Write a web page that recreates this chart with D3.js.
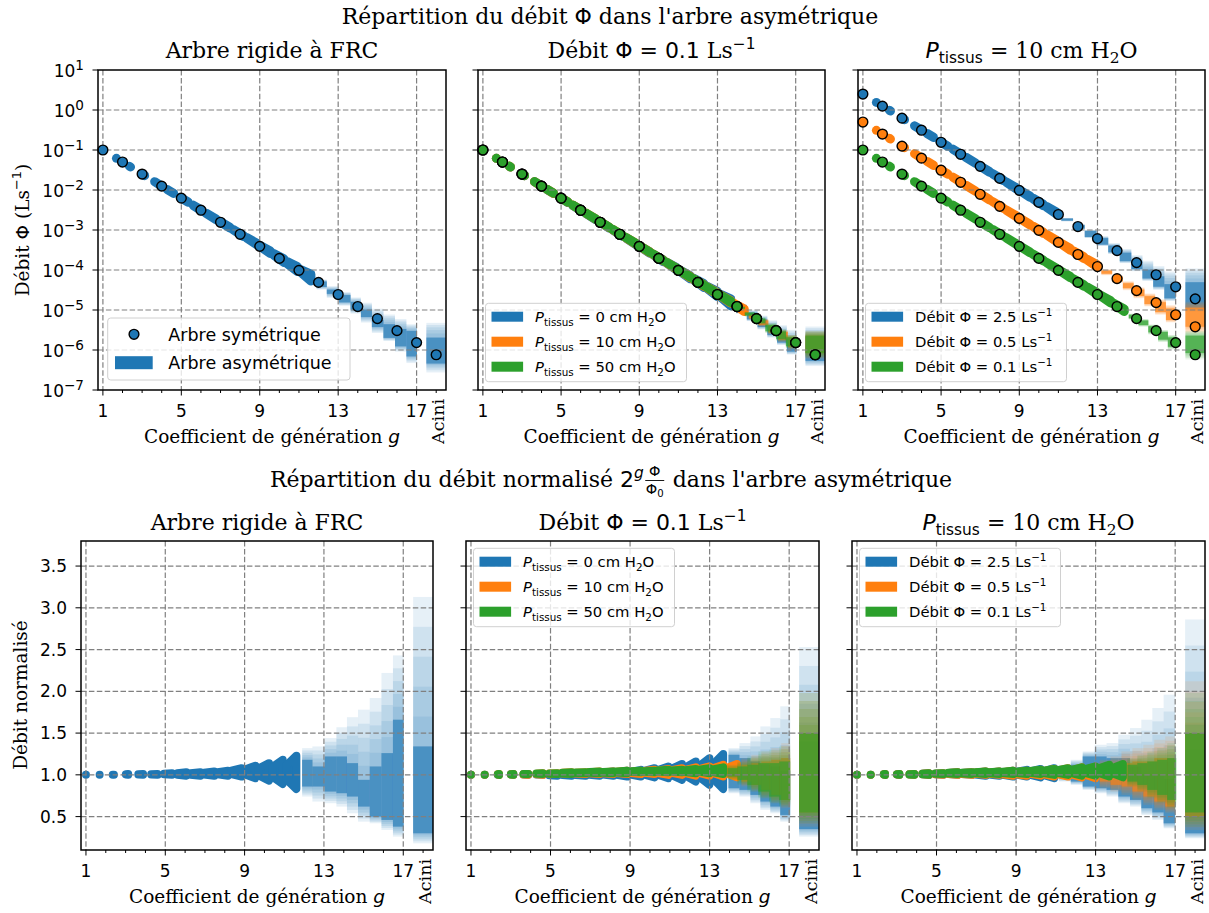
<!DOCTYPE html>
<html><head><meta charset="utf-8">
<script src="https://cdn.jsdelivr.net/npm/d3@7"></script>
<style>
body{margin:0;background:#fff;}
svg{display:block;}
text{white-space:pre;}
</style></head><body>
<script>
// ---------------- DATA ----------------
const xTickValues = [1, 5, 9, 13, 17];
const xMinorValues = [2, 3, 4, 6, 7, 8, 10, 11, 12, 14, 15, 16, 18];
const aciniPos = 18;
const aciniLabel = "Acini";
const logTickExps = [-7, -6, -5, -4, -3, -2, -1, 0, 1];
const normTicks = [0.5, 1.0, 1.5, 2.0, 2.5, 3.0, 3.5];
const symGen = [1, 2, 3, 4, 5, 6, 7, 8, 9, 10, 11, 12, 13, 14, 15, 16, 17, 18];

// symmetric tree flows (L/s) per generation (last = acini)
const symFlow01 = [0.1, 0.05, 0.025, 0.0125, 0.00625, 0.003125, 0.00156, 7.8e-4, 3.9e-4, 1.95e-4, 9.8e-5, 4.9e-5, 2.44e-5, 1.22e-5, 6.1e-6, 3.05e-6, 1.53e-6, 7.6e-7];
const symFlow05 = [0.5, 0.25, 0.125, 0.0625, 0.03125, 0.0156, 0.0078, 0.0039, 0.00195, 9.8e-4, 4.9e-4, 2.44e-4, 1.22e-4, 6.1e-5, 3.05e-5, 1.53e-5, 7.6e-6, 3.8e-6];
const symFlow25 = [2.5, 1.25, 0.625, 0.3125, 0.156, 0.078, 0.039, 0.0195, 0.0098, 0.0049, 0.00244, 0.00122, 6.1e-4, 3.05e-4, 1.53e-4, 7.6e-5, 3.8e-5, 1.9e-5];

// asymmetric tree: clusters of branches (generation coefficient) -- normalised flow range
const blobX = [1.00, 1.69, 2.38, 3.07, 3.76, 4.45, 5.14, 5.83, 6.52, 7.21, 7.90, 8.59, 9.28, 9.97, 10.66, 11.35, 12.04, 12.73, 13.42, 14.11];
const blobHalfW = [0, 0, 0.03, 0.06, 0.12, 0.16, 0.20, 0.23, 0.25, 0.26, 0.26, 0.26, 0.26, 0.26, 0.26, 0.26, 0.26, 0.26, 0.26, 0.26];
const aciniSpan = [17.5, 18.5];
const aciniNormGen = 17;

// rigid tree at FRC (Phi0 = 0.1)
const rigidLo = [1.00, 1.00, 1.00, 1.00, 1.00, 1.00, 1.00, 0.99, 0.99, 0.99, 0.99, 0.98, 0.96, 0.93, 0.89, 0.83];
const rigidHi = [1.00, 1.00, 1.00, 1.01, 1.01, 1.01, 1.02, 1.03, 1.03, 1.04, 1.05, 1.08, 1.11, 1.14, 1.18, 1.23];
// [x0, x1, min, max, coreMin, coreMax]
const rigidCols = [
  [11.90, 12.42, 0.74, 1.32, 0.86, 1.18], [12.42, 13.04, 0.68, 1.34, 0.86, 1.10],
  [13.04, 13.63, 0.66, 1.44, 0.80, 1.22], [13.63, 14.16, 0.62, 1.57, 0.78, 1.22],
  [14.16, 14.72, 0.54, 1.69, 0.74, 1.14], [14.72, 15.31, 0.44, 1.78, 0.62, 0.94],
  [15.31, 15.90, 0.42, 1.92, 0.50, 1.10], [15.90, 16.48, 0.34, 2.22, 0.46, 1.26],
  [16.48, 17.02, 0.26, 2.43, 0.38, 1.66]];
const rigidAcini = [0.18, 3.13, 0.30, 1.34];

// Phi0 = 0.1, P_tissus = 0
const p0Lo = [1.00, 1.00, 1.00, 1.00, 1.00, 1.00, 0.99, 0.99, 0.99, 0.99, 0.99, 0.98, 0.98, 0.97, 0.96, 0.94, 0.92, 0.88, 0.83];
const p0Hi = [1.00, 1.00, 1.00, 1.01, 1.01, 1.01, 1.01, 1.02, 1.02, 1.03, 1.04, 1.05, 1.06, 1.08, 1.10, 1.13, 1.16, 1.20, 1.25];
const p0Cols = [
  [13.95, 14.50, 0.78, 1.32, 0.84, 1.24], [14.50, 15.05, 0.74, 1.38, 0.82, 1.20],
  [15.05, 15.55, 0.66, 1.46, 0.76, 1.16], [15.55, 16.05, 0.58, 1.58, 0.68, 1.12],
  [16.05, 16.55, 0.54, 1.68, 0.62, 1.10], [16.55, 17.05, 0.44, 1.82, 0.52, 1.05]];
const p0Acini = [0.26, 2.53, 0.35, 1.40];

// Phi0 = 0.1, P_tissus = 10
const p10Lo = [1.00, 1.00, 1.00, 1.00, 1.00, 1.00, 1.01, 1.01, 1.01, 1.01, 1.01, 1.01, 1.01, 1.01, 1.00, 1.00, 0.99, 0.99, 0.98, 0.97];
const p10Hi = [1.00, 1.00, 1.01, 1.01, 1.01, 1.02, 1.02, 1.03, 1.03, 1.04, 1.04, 1.05, 1.05, 1.06, 1.07, 1.08, 1.09, 1.10, 1.12, 1.13];
const p10Cols = [
  [14.60, 15.10, 0.86, 1.20, 0.92, 1.12], [15.10, 15.60, 0.80, 1.24, 0.88, 1.14],
  [15.60, 16.10, 0.72, 1.28, 0.82, 1.16], [16.10, 16.60, 0.66, 1.32, 0.76, 1.18],
  [16.60, 17.05, 0.60, 1.38, 0.70, 1.20]];
const p10Acini = [0.38, 1.98, 0.55, 1.50];

// Phi0 = 0.1, P_tissus = 50
const p50Lo = [1.00, 1.00, 1.00, 1.00, 1.01, 1.01, 1.01, 1.01, 1.02, 1.02, 1.02, 1.02, 1.03, 1.03, 1.03, 1.03, 1.02, 1.02, 1.01];
const p50Hi = [1.00, 1.00, 1.01, 1.01, 1.01, 1.02, 1.02, 1.03, 1.03, 1.04, 1.04, 1.05, 1.05, 1.05, 1.06, 1.06, 1.07, 1.08, 1.09];
const p50Cols = [
  [13.90, 14.40, 0.94, 1.12, 0.98, 1.08], [14.40, 14.90, 0.88, 1.16, 0.94, 1.10],
  [14.90, 15.45, 0.80, 1.22, 0.88, 1.12], [15.45, 16.00, 0.72, 1.28, 0.80, 1.14],
  [16.00, 16.50, 0.66, 1.30, 0.74, 1.14], [16.50, 17.05, 0.62, 1.34, 0.70, 1.16]];
const p50Acini = [0.42, 1.98, 0.55, 1.50];

// P_tissus = 10, Phi0 = 2.5
const q25Lo = [1.00, 1.00, 1.00, 1.00, 1.00, 1.00, 1.00, 1.00, 1.00, 0.99, 0.99, 0.98, 0.98, 0.97, 0.96];
const q25Hi = [1.00, 1.00, 1.01, 1.01, 1.01, 1.02, 1.02, 1.03, 1.03, 1.04, 1.04, 1.05, 1.06, 1.07, 1.08];
const q25Cols = [
  [11.15, 11.75, 0.92, 1.12, 0.96, 1.08], [11.75, 12.35, 0.88, 1.18, 0.92, 1.12],
  [12.35, 12.95, 0.82, 1.28, 0.86, 1.22], [12.95, 13.55, 0.78, 1.36, 0.84, 1.22],
  [13.55, 14.14, 0.74, 1.38, 0.82, 1.20], [14.14, 14.73, 0.66, 1.48, 0.74, 1.20],
  [14.73, 15.30, 0.62, 1.56, 0.70, 1.10], [15.30, 15.85, 0.52, 1.66, 0.60, 1.00],
  [15.85, 16.42, 0.46, 1.80, 0.55, 1.00], [16.42, 17.00, 0.36, 1.96, 0.42, 0.95]];
const q25Acini = [0.24, 2.86, 0.30, 1.30];

// P_tissus = 10, Phi0 = 0.5
const q05Lo = [1.00, 1.00, 1.00, 1.00, 1.00, 1.00, 1.00, 1.00, 1.00, 1.00, 1.00, 0.99, 0.99, 0.99, 0.98, 0.98, 0.97, 0.96];
const q05Hi = [1.00, 1.00, 1.01, 1.01, 1.01, 1.02, 1.02, 1.03, 1.03, 1.04, 1.04, 1.05, 1.05, 1.06, 1.07, 1.08, 1.09, 1.10];
const q05Cols = [
  [13.20, 13.75, 0.84, 1.18, 0.92, 1.10], [13.75, 14.30, 0.80, 1.22, 0.88, 1.12],
  [14.30, 14.85, 0.76, 1.28, 0.86, 1.14], [14.85, 15.40, 0.70, 1.32, 0.80, 1.16],
  [15.40, 15.95, 0.64, 1.36, 0.74, 1.16], [15.95, 16.50, 0.58, 1.42, 0.68, 1.20],
  [16.50, 17.00, 0.54, 1.46, 0.62, 1.20]];
const q05Acini = [0.34, 2.12, 0.50, 1.50];

const SERIES = {
  rigid: {phi0: 0.1, lo: rigidLo, hi: rigidHi, cols: rigidCols, acini: rigidAcini},
  p0:    {phi0: 0.1, lo: p0Lo, hi: p0Hi, cols: p0Cols, acini: p0Acini},
  p10:   {phi0: 0.1, lo: p10Lo, hi: p10Hi, cols: p10Cols, acini: p10Acini},
  p50:   {phi0: 0.1, lo: p50Lo, hi: p50Hi, cols: p50Cols, acini: p50Acini},
  q25:   {phi0: 2.5, lo: q25Lo, hi: q25Hi, cols: q25Cols, acini: q25Acini},
  q05:   {phi0: 0.5, lo: q05Lo, hi: q05Hi, cols: q05Cols, acini: q05Acini}
};

// ---------------- LAYOUT ----------------
const W = 1209, H = 913;
const C = {blue: "#1f77b4", orange: "#ff7f0e", green: "#2ca02c"};
const SERIF = '"DejaVu Serif", serif';
const SANS = '"DejaVu Sans", sans-serif';
const xDomain = [0.75, 18.5];
const topBoxes = [[98, 446], [478, 825], [858, 1205]];
const botBoxes = [[81, 433], [466, 819], [852, 1205]];
const TOP = {y0: 70, y1: 390}, BOT = {y0: 541, y1: 850};
const yLog = d3.scaleLog().domain([1e-7, 10]).range([TOP.y1, TOP.y0]);
const yNorm = d3.scaleLinear().domain([0.1, 3.8]).range([BOT.y1, BOT.y0]);

const svg = d3.select("body").append("svg").attr("width", W).attr("height", H)
  .style("background", "#fff");
const defs = svg.append("defs");

function rich(sel, parts, base, supScale) {
  let cur = 0;
  const ss = supScale || 0.7;
  parts.forEach(p => {
    const ts = sel.append("tspan").text(p.t);
    ts.attr("font-family", p.f === "sans" ? SANS : SERIF);
    if (p.it) ts.attr("font-style", "italic");
    let off = 0, size = base;
    if (p.sub) { off = base * 0.24; size = base * 0.7; }
    if (p.sup) { off = -base * 0.42; size = base * ss; }
    ts.attr("font-size", size);
    if (off !== cur) { ts.attr("dy", off - cur); cur = off; }
  });
  return sel;
}

function drawPanel(box, isTop, idx, bands, circles) {
  const xs = d3.scaleLinear().domain(xDomain).range(box);
  const ys = isTop ? yLog : yNorm;
  const Y = isTop ? TOP : BOT;
  const clipId = "clip" + (isTop ? "t" : "b") + idx;
  defs.append("clipPath").attr("id", clipId).append("rect")
    .attr("x", box[0]).attr("y", Y.y0).attr("width", box[1] - box[0]).attr("height", Y.y1 - Y.y0);
  const g = svg.append("g");
  const dataG = g.append("g").attr("clip-path", `url(#${clipId})`);

  bands.forEach(([key, color]) => {
    const s = SERIES[key];
    const val = isTop ? (v, x) => s.phi0 * v / Math.pow(2, x - 1) : (v) => v;
    const sg = dataG.append("g");
    const cols = s.cols.map(c => ({c, gc: (c[0] + c[1]) / 2}));
    cols.push({c: [aciniSpan[0], aciniSpan[1]].concat(s.acini), gc: aciniNormGen});
    cols.forEach(({c, gc}) => {
      const [x0, x1, lo, hi, cl, ch] = c;
      const layers = 6;
      for (let j = 0; j < layers; j++) {
        const t = j / (layers - 1);
        const a = lo + (cl - lo) * t, b = hi + (ch - hi) * t;
        const yA = ys(val(a, gc)), yB = ys(val(b, gc));
        sg.append("rect").attr("x", xs(x0)).attr("width", xs(x1) - xs(x0))
          .attr("y", yB).attr("height", yA - yB)
          .attr("fill", color).attr("fill-opacity", 0.11);
      }
      const yA = ys(val(cl, gc)), yB = ys(val(ch, gc));
      sg.append("rect").attr("x", xs(x0)).attr("width", xs(x1) - xs(x0))
        .attr("y", yB).attr("height", yA - yB)
        .attr("fill", color).attr("fill-opacity", 0.6);
    });
    s.lo.forEach((lo, k) => {
      const hi = s.hi[k], c = blobX[k], hw = blobHalfW[k];
      const xl = c - hw, xr = c + hw;
      const mid = (lo + hi) / 2;
      const lL = mid + (lo - mid) * 0.4, hL = mid + (hi - mid) * 0.4;
      const pts = [[xl, lL], [xr, lo], [xr, hi], [xl, hL]];
      const d = "M" + pts.map(p => xs(p[0]).toFixed(2) + "," + ys(val(p[1], p[0])).toFixed(2)).join("L") + "Z";
      sg.append("path").attr("d", d).attr("fill", color).attr("stroke", color)
        .attr("stroke-width", isTop ? 9 : 8).attr("stroke-linejoin", "round").attr("stroke-linecap", "round");
    });
  });

  // grid
  const gridG = g.append("g").attr("stroke", "#808080").attr("stroke-width", 1.2)
    .attr("stroke-dasharray", "5.5,2.4");
  xTickValues.forEach(v => gridG.append("line").attr("x1", xs(v)).attr("x2", xs(v)).attr("y1", Y.y0).attr("y2", Y.y1));
  const yTickVals = isTop ? logTickExps.map(e => Math.pow(10, e)) : normTicks;
  yTickVals.forEach(v => {
    const yy = ys(v);
    if (yy > Y.y0 + 0.5 && yy < Y.y1 - 0.5)
      gridG.append("line").attr("x1", box[0]).attr("x2", box[1]).attr("y1", yy).attr("y2", yy);
  });

  // symmetric markers
  if (circles) {
    circles.forEach(([vals, color]) => {
      g.append("g").selectAll("circle").data(vals).join("circle")
        .attr("cx", (d, i) => xs(symGen[i])).attr("cy", d => ys(d)).attr("r", 4.9)
        .attr("fill", color).attr("stroke", "#000").attr("stroke-width", 1.4);
    });
  }

  // spines
  g.append("rect").attr("x", box[0]).attr("y", Y.y0).attr("width", box[1] - box[0]).attr("height", Y.y1 - Y.y0)
    .attr("fill", "none").attr("stroke", "#000").attr("stroke-width", 1.5);

  // ticks
  const tk = g.append("g").attr("stroke", "#000").attr("stroke-width", 1);
  xTickValues.forEach(v => tk.append("line").attr("x1", xs(v)).attr("x2", xs(v)).attr("y1", Y.y1).attr("y2", Y.y1 + 5.5));
  xMinorValues.forEach(v => tk.append("line").attr("x1", xs(v)).attr("x2", xs(v)).attr("y1", Y.y1).attr("y2", Y.y1 + 3));
  yTickVals.forEach(v => tk.append("line").attr("x1", box[0] - 5.5).attr("x2", box[0]).attr("y1", ys(v)).attr("y2", ys(v)));

  xTickValues.forEach(v => g.append("text").attr("x", xs(v)).attr("y", Y.y1 + 27)
    .attr("text-anchor", "middle").attr("font-family", SANS).attr("font-size", 17).text(v));
  g.append("text").attr("transform", `translate(${xs(aciniPos) + 8},${Y.y1 + 9}) rotate(-90)`)
    .attr("text-anchor", "end").attr("font-family", SERIF).attr("font-size", 17.5).text(aciniLabel);

  if (idx === 0) {
    if (isTop) {
      logTickExps.forEach(e => {
        const t = g.append("text").attr("x", box[0] - 14).attr("y", ys(Math.pow(10, e)) + 7)
          .attr("text-anchor", "end");
        rich(t, [{t: "10", f: "sans"}, {t: (e < 0 ? "\u2212" : "") + Math.abs(e), f: "sans", sup: true}], 17, 0.8);
      });
    } else {
      normTicks.forEach(v => g.append("text").attr("x", box[0] - 14).attr("y", ys(v) + 6)
        .attr("text-anchor", "end").attr("font-family", SANS).attr("font-size", 17).text(v.toFixed(1)));
    }
  }

  // x label
  const xl = g.append("text").attr("x", (box[0] + box[1]) / 2).attr("y", Y.y1 + 53).attr("text-anchor", "middle");
  rich(xl, [{t: "Coefficient de génération ", f: "serif"}, {t: "g", f: "sans", it: true}], 18.5);
  return xs;
}

function legend(x, y, w, h, rows, fs) {
  const lg = svg.append("g");
  lg.append("rect").attr("x", x).attr("y", y).attr("width", w).attr("height", h).attr("rx", 3)
    .attr("fill", "#fff").attr("fill-opacity", 0.8).attr("stroke", "#d0d0d0").attr("stroke-width", 1);
  rows.forEach(r => {
    if (r.type === "marker") {
      lg.append("circle").attr("cx", r.mx).attr("cy", r.y).attr("r", 4.9).attr("fill", r.color)
        .attr("stroke", "#000").attr("stroke-width", 1.4);
    } else {
      lg.append("rect").attr("x", r.px).attr("y", r.y - r.ph / 2).attr("width", r.pw).attr("height", r.ph)
        .attr("fill", r.color);
    }
    const t = lg.append("text").attr("x", r.tx).attr("y", r.y + fs * 0.36);
    rich(t, r.parts, fs);
  });
}

const pt = (v) => [{t: "P", f: "sans", it: true}, {t: "tissus", f: "sans", sub: true}, {t: " = " + v + " cm H", f: "sans"}, {t: "2", f: "sans", sub: true}, {t: "O", f: "sans"}];
const db = (v) => [{t: "Débit \u03A6 = " + v + " Ls", f: "sans"}, {t: "\u22121", f: "sans", sup: true}];

// ---------------- PANELS ----------------
drawPanel(topBoxes[0], true, 0, [["rigid", C.blue]], [[symFlow01, C.blue]]);
drawPanel(topBoxes[1], true, 1, [["p0", C.blue], ["p10", C.orange], ["p50", C.green]],
  [[symFlow01, C.blue], [symFlow01, C.orange], [symFlow01, C.green]]);
drawPanel(topBoxes[2], true, 2, [["q25", C.blue], ["q05", C.orange], ["p10", C.green]],
  [[symFlow25, C.blue], [symFlow05, C.orange], [symFlow01, C.green]]);
drawPanel(botBoxes[0], false, 0, [["rigid", C.blue]], null);
drawPanel(botBoxes[1], false, 1, [["p0", C.blue], ["p10", C.orange], ["p50", C.green]], null);
drawPanel(botBoxes[2], false, 2, [["q25", C.blue], ["q05", C.orange], ["p10", C.green]], null);

// legends
legend(107.7, 318, 242.3, 62, [
  {type: "marker", color: C.blue, mx: 134, y: 334.3, tx: 168.3, parts: [{t: "Arbre symétrique", f: "sans"}]},
  {type: "patch", color: C.blue, px: 115, pw: 37.7, ph: 13, y: 362.7, tx: 168.3, parts: [{t: "Arbre asymétrique", f: "sans"}]}
], 17.5);
function legend3(bx, by, cols, labels) {
  const x0 = bx[0] + 7.5;
  legend(x0, by, 201, 78.4, labels.map((p, i) => ({
    type: "patch", color: cols[i], px: x0 + 6, pw: 31.6, ph: 10, y: by + 13.4 + 25 * i, tx: x0 + 49.5, parts: p
  })), 14.8);
}
legend3(topBoxes[1], 303.3, [C.blue, C.orange, C.green], [pt(0), pt(10), pt(50)]);
legend3(topBoxes[2], 303.3, [C.blue, C.orange, C.green], [db("2.5"), db("0.5"), db("0.1")]);
legend3(botBoxes[1], 548.3, [C.blue, C.orange, C.green], [pt(0), pt(10), pt(50)]);
legend3(botBoxes[2], 548.3, [C.blue, C.orange, C.green], [db("2.5"), db("0.5"), db("0.1")]);

// ---------------- TITLES ----------------
const TF = 22;
function title(cx, y, parts) {
  const t = svg.append("text").attr("x", cx).attr("y", y).attr("text-anchor", "middle");
  rich(t, parts, TF);
}
const tRigid = [{t: "Arbre rigide à FRC", f: "serif"}];
const tDebit = [{t: "Débit ", f: "serif"}, {t: "\u03A6 = 0.1 ", f: "sans"}, {t: "Ls", f: "serif"}, {t: "\u22121", f: "sans", sup: true}];
const tPt = [{t: "P", f: "sans", it: true}, {t: "tissus", f: "sans", sub: true}, {t: " = 10 cm H", f: "serif"}, {t: "2", f: "serif", sub: true}, {t: "O", f: "serif"}];
[[topBoxes, 58], [botBoxes, 530]].forEach(([bxs, y]) => {
  title((bxs[0][0] + bxs[0][1]) / 2, y, tRigid);
  title((bxs[1][0] + bxs[1][1]) / 2, y, tDebit);
  title((bxs[2][0] + bxs[2][1]) / 2, y, tPt);
});
title(610, 24, [{t: "Répartition du débit ", f: "serif"}, {t: "\u03A6", f: "sans"}, {t: " dans l'arbre asymétrique", f: "serif"}]);

// second suptitle with stacked fraction
(function () {
  const g = svg.append("g");
  const base = 487;
  const t1 = g.append("text").attr("y", base);
  rich(t1, [{t: "Répartition du débit normalisé ", f: "serif"}, {t: "2", f: "sans"}, {t: "g", f: "sans", it: true, sup: true}], TF);
  const w1 = t1.node().getComputedTextLength();
  const fw = 19;
  const t2 = g.append("text").attr("y", base);
  rich(t2, [{t: " dans l'arbre asymétrique", f: "serif"}], TF);
  const w2 = t2.node().getComputedTextLength();
  const total = w1 + 3 + fw + w2;
  const x0 = 611 - total / 2;
  t1.attr("x", x0);
  const fx = x0 + w1 + 1.5 + fw / 2;
  g.append("text").attr("x", fx).attr("y", base - 11).attr("text-anchor", "middle")
    .attr("font-family", SANS).attr("font-size", 14.5).text("\u03A6");
  g.append("line").attr("x1", fx - fw / 2).attr("x2", fx + fw / 2).attr("y1", base - 6.5).attr("y2", base - 6.5)
    .attr("stroke", "#000").attr("stroke-width", 0.9);
  const den = g.append("text").attr("x", fx).attr("y", base + 6.5).attr("text-anchor", "middle");
  rich(den, [{t: "\u03A6", f: "sans"}, {t: "0", f: "sans", sub: true}], 14.5);
  t2.attr("x", x0 + w1 + 3 + fw);
})();

// y labels
const yl1 = svg.append("text").attr("transform", "translate(29,230) rotate(-90)").attr("text-anchor", "middle");
rich(yl1, [{t: "Débit ", f: "serif"}, {t: "\u03A6", f: "sans"}, {t: " (Ls", f: "serif"}, {t: "\u22121", f: "sans", sup: true}, {t: ")", f: "serif"}], 18.5);
const yl2 = svg.append("text").attr("transform", "translate(27,695) rotate(-90)").attr("text-anchor", "middle");
rich(yl2, [{t: "Débit normalisé", f: "serif"}], 18.5);
</script></body></html>
